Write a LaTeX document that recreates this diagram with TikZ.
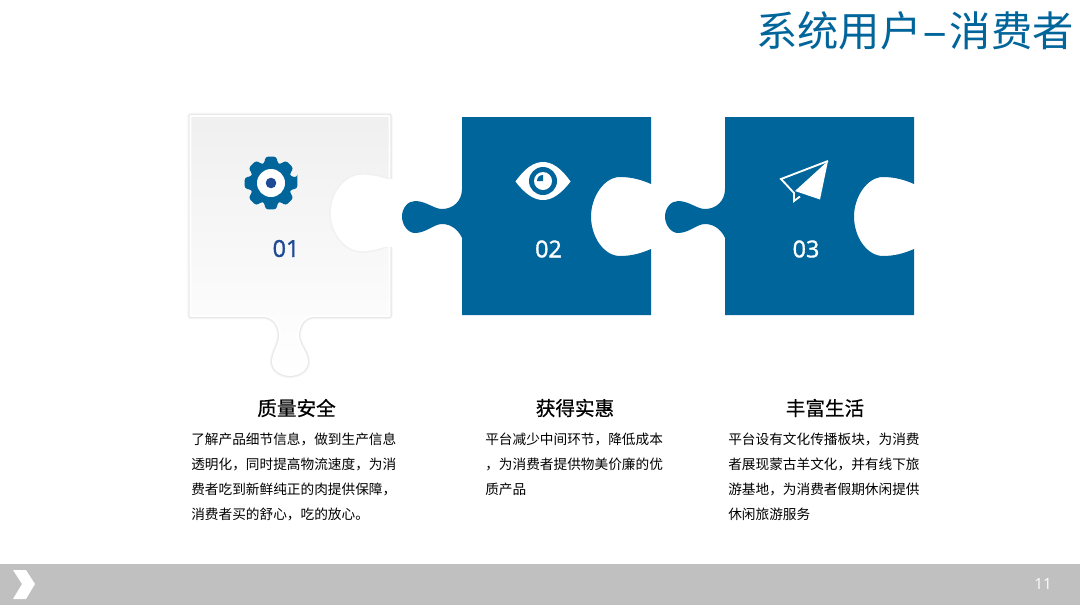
\documentclass[tikz,border=0pt]{standalone}
\usepackage{graphicx}
\usepackage{fontspec}
\setmainfont{Open Sans}
\newfontfamily\cjk{Noto Sans CJK SC}
\newfontfamily\cjkm[FakeBold=0.6]{Noto Sans CJK SC}
\newfontfamily\nums[FakeBold=1.4]{Open Sans}
\definecolor{brand}{HTML}{00659B}
\definecolor{navy}{HTML}{1F4A96}
\definecolor{band}{HTML}{C0C0C0}
\tikzset{
  x=0.75pt,y=-0.75pt,
  bodytext/.style={anchor=west,inner sep=0pt,font=\fontsize{10.25pt}{12pt}\cjk,text=black},
  headtext/.style={anchor=center,inner sep=0pt,font=\fontsize{14.7pt}{16pt}\cjkm,text=black},
  numtext/.style={anchor=center,inner sep=0pt,font=\fontsize{17.5pt}{20pt}\nums},
}
% puzzle piece outline with origin at the upper-left corner of the square
\newcommand{\bluepiece}[1]{%
  \fill[brand,shift={(#1,117)},even odd rule]
    (0,0) -- (189,0) -- (189,67)
    .. controls (180,63) and (170,60) .. (158,60)
    .. controls (142,60) and (129,80) .. (129,99.5)
    .. controls (129,120) and (142,139) .. (158,139)
    .. controls (170,139) and (180,136) .. (189,132)
    -- (189,198) -- (0,198) -- (0,121)
    .. controls (-3,114) and (-10,107) .. (-20,107)
    .. controls (-28,107) and (-36,116) .. (-47,116)
    .. controls (-54,116) and (-60,108) .. (-60,99.5)
    .. controls (-60,91) and (-54,84) .. (-47,84)
    .. controls (-36,84) and (-28,92) .. (-20,92)
    .. controls (-9,92) and (0,84) .. (0,72)
    -- cycle;}
% outline of the pale tile
\def\tileoutline{(190.5,116) -- (389.5,116) -- (389.5,316) -- (312,316)
    .. controls (302,318) and (298,327) .. (298,336)
    .. controls (298,345) and (307,352) .. (307,362)
    .. controls (307,370) and (298,375) .. (290,375)
    .. controls (282,375) and (273,370) .. (273,362)
    .. controls (273,352) and (280,345) .. (280,336)
    .. controls (280,327) and (276,318) .. (265,316)
    -- (190.5,316) -- cycle}
\begin{document}
\begin{tikzpicture}
\useasboundingbox (0,0) rectangle (1080,608);
\fill[white] (0,0) rectangle (1080,608);

% first piece: soft white tile
\draw[black!4,line width=4.6pt,line join=round] \tileoutline;
\draw[black!9,line width=3pt,line join=round] \tileoutline;
\shade[top color=black!6,bottom color=white,draw=white,line width=1.4pt,line join=round] \tileoutline;
\fill[white,draw=black!6,line width=1pt] (392,180)
    .. controls (382,176) and (372,174) .. (362,174)
    .. controls (345,174) and (330,192) .. (330,213)
    .. controls (330,234) and (345,252) .. (362,252)
    .. controls (372,252) and (382,249) .. (392,245);
\fill[white] (385,178.5) rectangle (394,246.5);

\bluepiece{462}
\bluepiece{725}

% gear
\fill[brand,rounded corners=2.2pt]
  ({271+27*cos(-12)},{183+27*sin(-12)})
  \foreach \a in {0,45,...,315} {
    -- ({271+27*cos(\a-12)},{183+27*sin(\a-12)})
    -- ({271+27*cos(\a+12)},{183+27*sin(\a+12)})
    -- ({271+20.5*cos(\a+19)},{183+20.5*sin(\a+19)})
    -- ({271+20.5*cos(\a+26)},{183+20.5*sin(\a+26)})
  } -- cycle;
\fill[white] (271,183) circle (14);
\fill[navy] (271,183) circle (5.3);

% eye
\fill[white] (515.5,181.5) .. controls (525,168) and (534,162) .. (543,162)
  .. controls (552,162) and (561,168) .. (570.5,181.5)
  .. controls (561,194) and (552,200) .. (543,200)
  .. controls (534,200) and (525,194) .. (515.5,181.5) -- cycle;
\fill[brand] (543,181) circle (14);
\fill[white] (543,181) circle (9);
\fill[brand] (543,181) -- (537,181) .. controls (537,177.5) and (539.5,175) .. (543,175) -- cycle;

% paper plane
\fill[white] (828,161) -- (820,199.5) -- (795,191) -- cycle;
\draw[white,line width=1.4pt,line join=miter] (828,161) -- (781,179) -- (794,193) -- (794,201) -- (800,196.5);

% numbers
\node[numtext,text=navy] (n1) at (286,248.5) {01};
\node[numtext,text=white] (n2) at (548.5,249) {02};
\node[numtext,text=white] (n3) at (806,249) {03};

% title
\node[anchor=center,inner sep=0pt,font=\fontsize{31pt}{34pt}\cjk,text=brand] (title) at (915,31) {系统用户\scalebox{1.9}[1]{-}\hspace{1pt}消费者};

% headings
\node[headtext] (h1) at (296.5,408) {质量安全};
\node[headtext] (h2) at (575,408) {获得实惠};
\node[headtext] (h3) at (825,408) {丰富生活};

% bodies
\node[bodytext] (a1) at (191,439) {了解产品细节信息，做到生产信息};
\node[bodytext] (a2) at (191,464) {透明化，同时提高物流速度，为消};
\node[bodytext] (a3) at (191,489) {费者吃到新鲜纯正的肉提供保障，};
\node[bodytext] (a4) at (191,514) {消费者买的舒心，吃的放心。};
\node[bodytext] (b1) at (485,439) {平台减少中间环节，降低成本};
\node[bodytext] (b2) at (485,464) {，为消费者提供物美价廉的优};
\node[bodytext] (b3) at (485,489) {质产品};
\node[bodytext] (c1) at (728,439) {平台设有文化传播板块，为消费};
\node[bodytext] (c2) at (728,464) {者展现蒙古羊文化，并有线下旅};
\node[bodytext] (c3) at (728,489) {游基地，为消费者假期休闲提供};
\node[bodytext] (c4) at (728,514) {休闲旅游服务};

% footer
\fill[band] (0,564) rectangle (1080,605);
\fill[white] (13,570) -- (26,570) -- (35,584) -- (26,599) -- (13,599) -- (22,584) -- cycle;
\node[anchor=center,inner sep=0pt,font=\fontsize{11.5pt}{12pt}\selectfont,text=white] (pg) at (1043,584) {11};
\end{tikzpicture}
\end{document}
